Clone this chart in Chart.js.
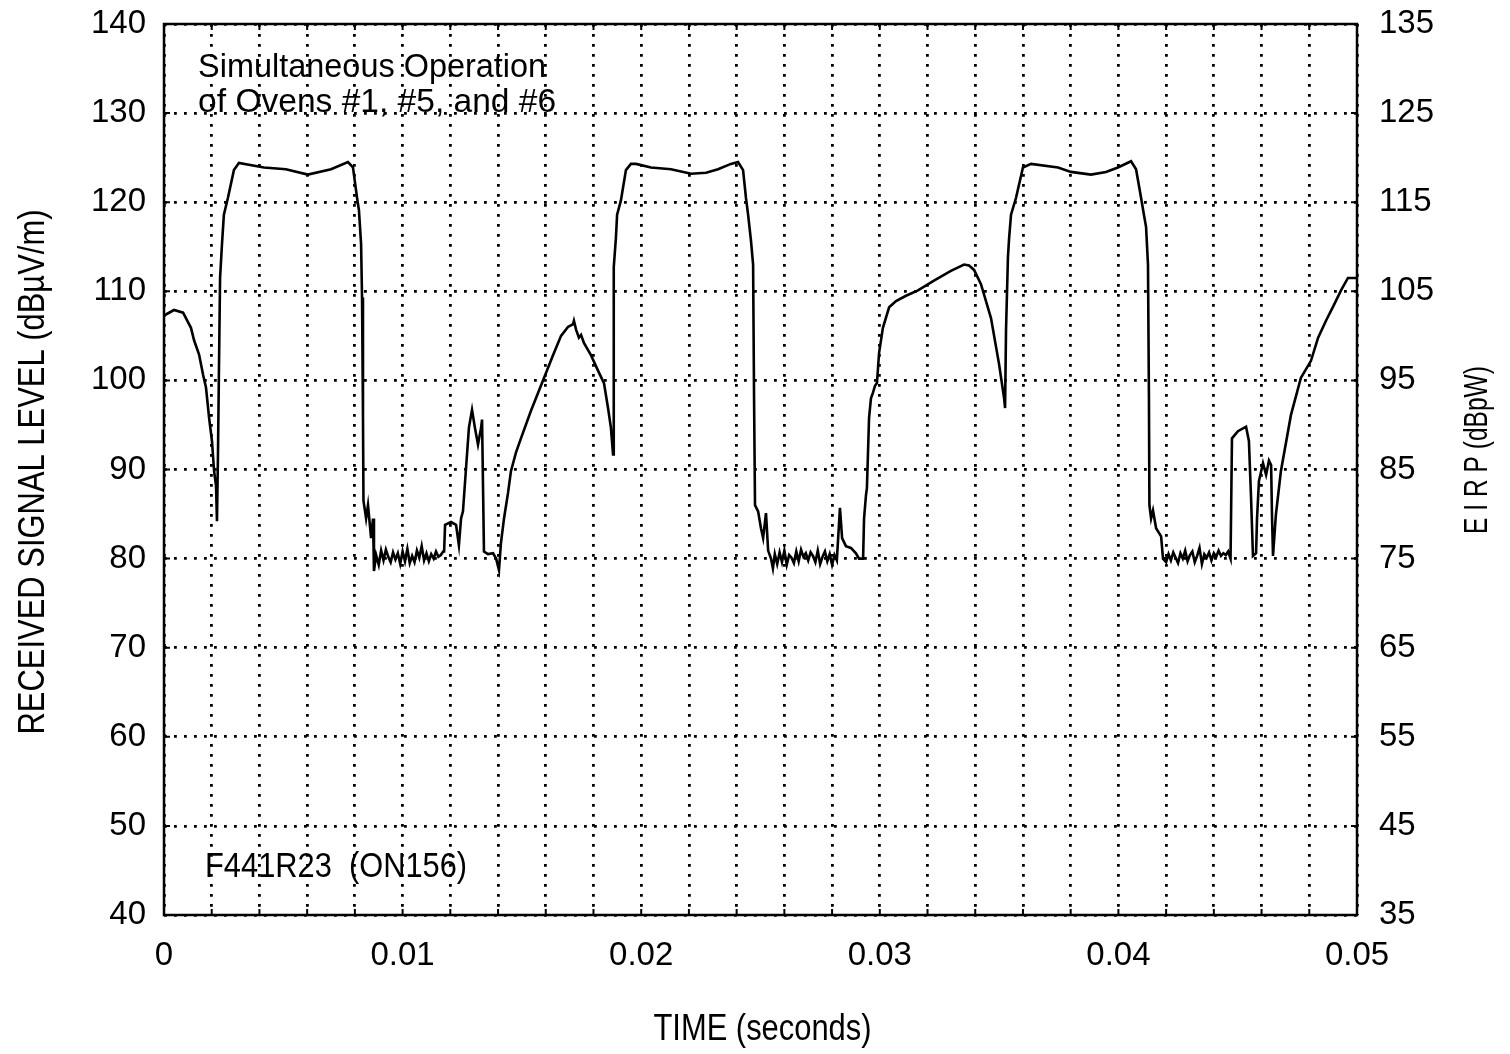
<!DOCTYPE html>
<html>
<head>
<meta charset="utf-8">
<script src="https://cdn.jsdelivr.net/npm/chart.js@4.4.1/dist/chart.umd.min.js"></script>
<style>
  html, body { margin: 0; padding: 0; background: #fff; }
  #wrap { width: 1510px; height: 1054px; }
</style>
</head>
<body>
<div id="wrap"><canvas id="chart1" width="1510" height="1054"></canvas></div>
<script>
// DATA (time in milliseconds, received level in dBuV/m)

const timeMs = [
  0, 0.08, 0.42, 0.80, 1.13, 1.26, 1.47, 1.64, 1.76, 1.89, 2.01, 2.10, 2.18, 2.22,
  2.26, 2.30, 2.35, 2.43, 2.51, 2.68, 2.93, 3.14, 4.19, 5.11, 6.03, 7.00, 7.71, 7.92,
  8.09, 8.17, 8.26, 8.30, 8.34, 8.36, 8.47, 8.55, 8.68, 8.76, 8.80, 8.89,
  9.0, 9.1, 9.2, 9.3, 9.4, 9.5, 9.6, 9.7, 9.8, 9.9, 10.0, 10.1, 10.2, 10.3, 10.4,
  10.5, 10.6, 10.7, 10.8, 10.9, 11.0, 11.1, 11.2, 11.3, 11.4, 11.5, 11.6, 11.7,
  11.74, 11.78, 12.03, 12.24, 12.36, 12.45, 12.53, 12.66, 12.78, 12.91, 13.03, 13.16,
  13.29, 13.33, 13.41, 13.58, 13.79, 13.92, 14.04, 14.12, 14.25, 14.42, 14.54, 14.75,
  14.96, 15.38, 15.93, 16.30, 16.64, 16.93, 17.14, 17.18, 17.27, 17.39, 17.48, 17.60,
  17.90, 18.19, 18.44, 18.61, 18.73, 18.82, 18.84, 18.86, 18.94, 18.99, 19.15, 19.36,
  19.57, 19.78, 20.41, 21.25, 22.09, 22.72, 23.22, 23.76, 24.06, 24.27, 24.39, 24.48,
  24.60, 24.69, 24.73, 24.77, 24.90, 25.02, 25.11, 25.23, 25.32, 25.44, 25.52,
  25.6, 25.7, 25.8, 25.9, 26.0, 26.1, 26.2, 26.3, 26.4, 26.5, 26.6, 26.7, 26.8, 26.9,
  27.0, 27.1, 27.2, 27.3, 27.4, 27.5, 27.6, 27.7, 27.8, 27.9, 28.0, 28.1, 28.2,
  28.33, 28.42, 28.58, 28.79, 29.00, 29.13, 29.30, 29.34, 29.42, 29.46, 29.55, 29.63,
  29.71, 29.80, 29.88, 29.97, 30.13, 30.39, 30.68, 31.10, 31.60, 32.27, 32.98, 33.53,
  33.74, 33.95, 34.24, 34.66, 35.00, 35.21, 35.25, 35.29, 35.37, 35.42, 35.50, 35.71,
  36.00, 36.34, 37.47, 38.01, 38.85, 39.48, 39.98, 40.53, 40.74, 40.95, 41.07, 41.16,
  41.24, 41.28, 41.30, 41.37, 41.45, 41.58, 41.79, 41.87,
  42.0, 42.1, 42.2, 42.3, 42.4, 42.5, 42.6, 42.7, 42.8, 42.9, 43.0, 43.1, 43.2, 43.3,
  43.4, 43.5, 43.6, 43.7, 43.8, 43.9, 44.0, 44.1, 44.2, 44.3, 44.4, 44.5, 44.6,
  44.70, 44.76, 45.01, 45.35, 45.47, 45.56, 45.64, 45.77, 45.81, 45.89, 46.06, 46.19,
  46.31, 46.40, 46.44, 46.48, 46.60, 46.81, 47.23, 47.65, 48.07, 48.37, 48.70, 49.04,
  49.33, 49.62, 50.00
];

const levelDb = [
  107.3, 107.4, 107.9, 107.6, 105.9, 104.5, 102.9, 100.6, 99.2, 95.8, 93.2, 89.8, 88.2, 84.2,
  91.3, 100.5, 111.5, 115.3, 118.6, 120.5, 123.6, 124.4, 123.9, 123.7, 123.1, 123.7, 124.5, 123.9,
  120.5, 119.1, 115.3, 109.3, 95.8, 86.5, 84.5, 86.0, 82.3, 84.5, 78.6, 80.4,
  79.3, 80.9, 79.8, 81.0, 80.2, 79.6, 80.7, 79.9, 80.6, 79.4, 80.8, 79.7, 81.1, 79.5, 80.3,
  79.6, 80.9, 80.1, 81.4, 79.8, 80.6, 79.7, 80.5, 80.0, 80.8, 80.2, 80.4, 80.8,
  80.8, 83.8, 84.1, 83.8, 81.5, 84.5, 85.3, 90.2, 94.7, 96.7, 94.7, 92.8,
  94.7, 95.6, 80.8, 80.5, 80.6, 80.0, 78.7, 81.7, 84.5, 87.4, 89.8, 91.9,
  93.5, 96.6, 100.3, 102.8, 105.0, 106.0, 106.3, 106.7, 105.7, 104.8, 105.1, 104.2,
  102.8, 101.1, 99.7, 96.9, 94.7, 91.7, 103.7, 112.7, 116.0, 118.6, 120.2, 123.6,
  124.3, 124.3, 123.9, 123.7, 123.2, 123.3, 123.7, 124.3, 124.5, 123.6, 120.5, 118.6,
  115.7, 113.0, 98.0, 86.0, 85.3, 83.4, 82.3, 85.1, 80.9, 80.0, 78.9,
  80.5, 79.4, 80.7, 79.6, 80.9, 79.3, 80.4, 80.1, 79.5, 80.8, 79.7, 81.0, 80.2, 80.6,
  79.8, 80.7, 80.3, 79.6, 80.9, 79.4, 80.2, 80.8, 79.7, 80.5, 79.3, 80.4, 79.8,
  85.7, 82.3, 81.4, 81.2, 80.6, 80.0, 80.0, 84.5, 87.1, 87.9, 95.8, 98.0,
  98.6, 99.4, 99.7, 103.1, 105.9, 108.2, 108.9, 109.5, 110.1, 111.2, 112.3, 113.0,
  112.9, 112.4, 110.8, 107.0, 101.8, 98.0, 96.9, 105.6, 113.8, 116.0, 118.6, 120.5,
  123.9, 124.3, 123.9, 123.4, 123.1, 123.4, 123.9, 124.6, 123.7, 120.5, 118.6, 117.2,
  113.0, 98.0, 86.0, 84.5, 85.4, 83.4, 82.5, 80.0,
  79.6, 80.5, 79.8, 80.7, 80.1, 79.5, 80.6, 80.0, 80.9, 79.7, 80.4, 80.8, 79.6, 80.3,
  81.2, 79.4, 80.5, 80.1, 80.7, 79.8, 80.6, 80.2, 80.9, 80.3, 80.6, 80.4, 80.8,
  80.0, 93.5, 94.3, 94.8, 93.2, 86.8, 80.3, 80.6, 84.5, 88.7, 90.7, 89.4,
  91.0, 90.5, 84.5, 80.3, 84.9, 89.8, 96.1, 100.3, 102.2, 104.8, 106.7, 108.5,
  110.1, 111.5, 111.5
];

// TICK LABELS
const timeTickLabels = ['0', '0.01', '0.02', '0.03', '0.04', '0.05'];
const leftTicks = [40, 50, 60, 70, 80, 90, 100, 110, 120, 130, 140];
const rightTicks = [35, 45, 55, 65, 75, 85, 95, 105, 115, 125, 135];

const FONT = "'Liberation Sans', Arial, sans-serif";

// build points for the line
let points = [];
for (let i = 0; i < timeMs.length; i++) {
  points.push({ x: timeMs[i] / 1000, y: levelDb[i] });
}

// texte serre a une largeur donnee
function fitText(ctx, txt, x, y, size, width) {
  ctx.font = size + 'px ' + FONT;
  let w = ctx.measureText(txt).width;
  ctx.save();
  ctx.translate(x, y);
  ctx.scale(width / w, 1);
  ctx.fillText(txt, 0, 0);
  ctx.restore();
}

// textes, cadre et petites graduations
const decorPlugin = {
  id: 'decor',
  afterDraw(chart) {
    const ctx = chart.ctx;
    const a = chart.chartArea;
    const xs = chart.scales.x;
    const ys = chart.scales.y;
    ctx.save();

    // frame
    ctx.strokeStyle = '#000';
    ctx.lineWidth = 2.5;
    ctx.strokeRect(a.left, a.top, a.right - a.left, a.bottom - a.top);

    // small inward ticks
    ctx.lineWidth = 2;
    for (let i = 0; i <= 25; i++) {
      let px = xs.getPixelForValue(i * 0.002);
      ctx.beginPath();
      ctx.moveTo(px, a.bottom); ctx.lineTo(px, a.bottom - 6);
      ctx.moveTo(px, a.top); ctx.lineTo(px, a.top + 6);
      ctx.stroke();
    }
    for (let i = 0; i < leftTicks.length; i++) {
      let py = ys.getPixelForValue(leftTicks[i]);
      ctx.beginPath();
      ctx.moveTo(a.left, py); ctx.lineTo(a.left + 6, py);
      ctx.moveTo(a.right, py); ctx.lineTo(a.right - 6, py);
      ctx.stroke();
    }

    ctx.fillStyle = '#000';
    ctx.textBaseline = 'alphabetic';
    ctx.textAlign = 'left';
    fitText(ctx, 'Simultaneous Operation', xs.getPixelForValue(0.00143), ys.getPixelForValue(134.1), 33, 348);
    fitText(ctx, 'of Ovens #1, #5, and #6', xs.getPixelForValue(0.00143), ys.getPixelForValue(130.1), 33, 358);
    fitText(ctx, 'F441R23  (ON156)', xs.getPixelForValue(0.00172), ys.getPixelForValue(44.3), 35, 262);

    // axis titles
    ctx.textAlign = 'center';
    ctx.textBaseline = 'middle';
    fitText(ctx, 'TIME (seconds)', (a.left + a.right) / 2 + 2, 1030, 36, 218);

    ctx.save();
    ctx.translate(34, 472);
    ctx.rotate(-Math.PI / 2);
    fitText(ctx, 'RECEIVED SIGNAL LEVEL (dB\u00B5V/m)', 0, 0, 37, 525);
    ctx.restore();

    ctx.save();
    ctx.translate(1478, 450);
    ctx.rotate(-Math.PI / 2);
    fitText(ctx, 'E I R P (dBpW)', 0, 0, 33, 168);
    ctx.restore();

    ctx.restore();
  }
};

const dotGrid = {
  display: true,
  color: '#000',
  lineWidth: 2.8,
  drawTicks: false
};

function noPadY(scale) {
  scale.paddingTop = 0;
  scale.paddingBottom = 0;
}

let myChart = new Chart(document.getElementById('chart1'), {
  type: 'line',
  data: {
    datasets: [{
      data: points,
      borderColor: '#000',
      borderWidth: 2.6,
      pointRadius: 0,
      tension: 0,
      fill: false,
      yAxisID: 'y'
    }]
  },
  options: {
    responsive: false,
    animation: false,
    layout: { padding: { top: 24, left: 0, right: 0, bottom: 0 } },
    plugins: {
      legend: { display: false },
      tooltip: { enabled: false }
    },
    scales: {
      x: {
        type: 'linear',
        min: 0,
        max: 0.05,
        afterFit: function (scale) {
          scale.height = 139;
          scale.paddingLeft = 0;
          scale.paddingRight = 0;
        },
        grid: Object.assign({}, dotGrid, { borderDash: [2.8, 7.2] }),
        border: { display: false, dash: [2.8, 7.2] },
        ticks: {
          stepSize: 0.002,
          autoSkip: false,
          maxRotation: 0,
          padding: 21,
          color: '#000',
          font: { family: FONT, size: 33 },
          callback: function (value) {
            let k = Math.round(value * 1000);
            if (k % 10 !== 0) return '';
            return timeTickLabels[k / 10];
          }
        }
      },
      y: {
        position: 'left',
        min: 40,
        max: 140,
        afterFit: function (scale) { scale.width = 164; noPadY(scale); },
        grid: Object.assign({}, dotGrid, { borderDash: [2.8, 7.2] }),
        border: { display: false, dash: [2.8, 7.2] },
        ticks: {
          stepSize: 10,
          padding: 18,
          color: '#000',
          font: { family: FONT, size: 33 }
        }
      },
      y2: {
        position: 'right',
        display: true,
        min: 35,
        max: 135,
        afterFit: function (scale) { scale.width = 153; noPadY(scale); },
        grid: { display: false, drawTicks: false },
        border: { display: false },
        ticks: {
          stepSize: 10,
          padding: 22,
          color: '#000',
          font: { family: FONT, size: 33 },
          callback: function (value) {
            return rightTicks.indexOf(value) >= 0 ? String(value) : '';
          }
        }
      }
    }
  },
  plugins: [decorPlugin]
});
</script>
</body>
</html>
